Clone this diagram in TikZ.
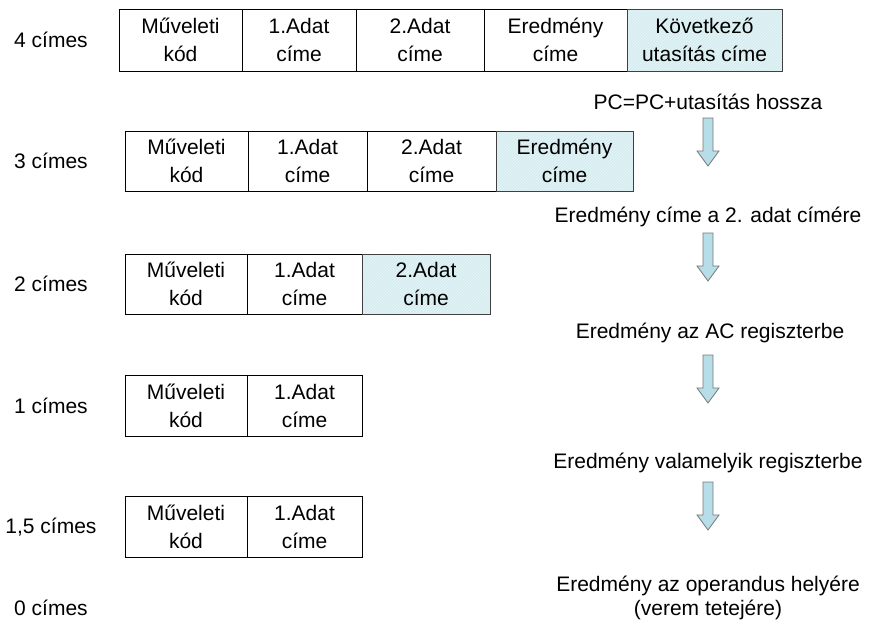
\documentclass[tikz,border=0pt]{standalone}
\usepackage{fontspec}
\setmainfont{Liberation Sans}
\usetikzlibrary{patterns}
\definecolor{hatchbg}{RGB}{212,236,241}
\definecolor{hatchline}{RGB}{236,246,248}
\definecolor{arrowfill}{RGB}{183,221,232}
\definecolor{arrowline}{RGB}{120,120,120}
\begin{document}
\begin{tikzpicture}[x=1pt,y=-1pt,
  every node/.style={font=\fontsize{21}{28}\selectfont, align=center, inner sep=0pt},
  cell/.style={draw=black, line width=0.8pt, fill=white},
  hcell/.style={draw=black!75, line width=0.8pt, preaction={fill=hatchbg},
                pattern=north east lines, pattern color=hatchline},
  rowlabel/.style={anchor=center},
  note/.style={anchor=center},
  fatarrow/.style={draw=arrowline, line width=0.8pt, fill=arrowfill, line join=miter}]
\useasboundingbox (0,0) rectangle (877,632);

% ---- 4-address instruction ----
\node[cell, minimum width=123pt, minimum height=62pt] (a1) at (180.5,40) {Műveleti\\kód};
\node[cell, minimum width=114pt, minimum height=62pt] (a2) at (299,40) {1.Adat\\címe};
\node[cell, minimum width=128pt, minimum height=62pt] (a3) at (420,40) {2.Adat\\címe};
\node[cell, minimum width=143pt, minimum height=62pt] (a4) at (555.5,40) {Eredmény\\címe};
\node[hcell, minimum width=155pt, minimum height=62pt] (a5) at (704.5,40) {Következő\\utasítás címe};

% ---- 3-address instruction ----
\node[cell, minimum width=123pt, minimum height=60pt] (b1) at (186.5,161) {Műveleti\\kód};
\node[cell, minimum width=119pt, minimum height=60pt] (b2) at (307.5,161) {1.Adat\\címe};
\node[cell, minimum width=129pt, minimum height=60pt] (b3) at (431.5,161) {2.Adat\\címe};
\node[hcell, minimum width=137pt, minimum height=60pt] (b4) at (564.5,161) {Eredmény\\címe};

% ---- 2-address instruction ----
\node[cell, minimum width=122pt, minimum height=60pt] (c1) at (186,284) {Műveleti\\kód};
\node[cell, minimum width=115pt, minimum height=60pt] (c2) at (304.5,284) {1.Adat\\címe};
\node[hcell, minimum width=128pt, minimum height=60pt] (c3) at (426,284) {2.Adat\\címe};

% ---- 1-address instruction ----
\node[cell, minimum width=122pt, minimum height=61pt] (d1) at (186,405.5) {Műveleti\\kód};
\node[cell, minimum width=115pt, minimum height=61pt] (d2) at (304.5,405.5) {1.Adat\\címe};

% ---- 1.5-address instruction ----
\node[cell, minimum width=122pt, minimum height=61pt] (e1) at (186,526.5) {Műveleti\\kód};
\node[cell, minimum width=115pt, minimum height=61pt] (e2) at (304.5,526.5) {1.Adat\\címe};

% ---- row labels ----
\node[rowlabel] (l4) at (51,40) {4 címes};
\node[rowlabel] (l3) at (51,161) {3 címes};
\node[rowlabel] (l2) at (51,284) {2 címes};
\node[rowlabel] (l1) at (51,405.5) {1 címes};
\node[rowlabel] (l15) at (51,527) {1,5 címes};
\node[rowlabel] (l0) at (51,608) {0 címes};

% ---- result placement notes ----
\node[note] (n1) at (708,102) {PC=PC+utasítás hossza};
\node[note] (n2) at (708,217) {Eredmény címe a 2. adat címére};
\node[note] (n3) at (710,333) {Eredmény az AC regiszterbe};
\node[note] (n4) at (708,463) {Eredmény valamelyik regiszterbe};
\node[note, font=\fontsize{21}{24}\selectfont] (n5) at (708,598) {Eredmény az operandus helyére\\(verem tetejére)};

% ---- block arrows between the notes ----
\foreach \t in {118,233,355,482}{
  \draw[fatarrow] (703,\t) -- (713,\t) -- (713,{\t+33}) -- (719,{\t+33})
     -- (708,{\t+48}) -- (697,{\t+33}) -- (703,{\t+33}) -- cycle;
}
\end{tikzpicture}
\end{document}
